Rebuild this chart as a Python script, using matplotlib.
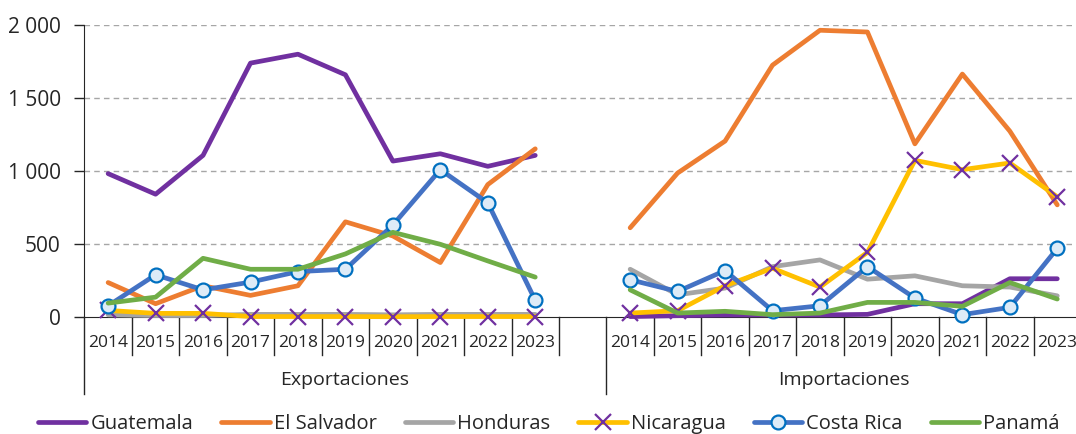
import matplotlib
matplotlib.use("Agg")
import matplotlib.pyplot as plt
from matplotlib.lines import Line2D
import matplotlib.transforms as mtransforms

plt.rcParams['font.family'] = ['Open Sans', 'DejaVu Sans']

years = ['2014', '2015', '2016', '2017', '2018', '2019', '2020', '2021', '2022', '2023']
groups = ['Exportaciones', 'Importaciones']
countries = ['Guatemala', 'El Salvador', 'Honduras', 'Nicaragua', 'Costa Rica', 'Panamá']

# exportaciones (millones)
exp_guatemala = [982, 841, 1107, 1739, 1800, 1659, 1068, 1118, 1032, 1107]
exp_salvador = [236, 91, 214, 148, 214, 652, 555, 373, 907, 1152]
exp_honduras = [15, 10, 10, 18, 18, 18, 15, 18, 18, 18]
exp_nicaragua = [45, 25, 25, 3, 3, 3, 2, 3, 3, 3]
exp_costarica = [77, 289, 186, 239, 311, 327, 630, 1009, 782, 114]
exp_panama = [95, 136, 402, 327, 327, 432, 580, 498, 384, 273]

# importaciones
imp_guatemala = [3, 9, 14, 14, 14, 18, 91, 91, 262, 262]
imp_salvador = [611, 986, 1205, 1725, 1964, 1952, 1186, 1664, 1273, 768]
imp_honduras = [327, 152, 198, 345, 391, 259, 282, 214, 205, 145]
imp_nicaragua = [27, 43, 214, 334, 205, 443, 1073, 1009, 1055, 823]
imp_costarica = [255, 175, 318, 43, 77, 345, 130, 16, 66, 470]
imp_panama = [186, 27, 39, 16, 27, 100, 100, 73, 236, 123]

exp_data = [exp_guatemala, exp_salvador, exp_honduras, exp_nicaragua, exp_costarica, exp_panama]
imp_data = [imp_guatemala, imp_salvador, imp_honduras, imp_nicaragua, imp_costarica, imp_panama]

colors = ['#7030A0', '#ED7D31', '#A5A5A5', '#FFC000', '#4472C4', '#70AD47']
styles = [
    dict(),
    dict(),
    dict(),
    dict(marker='x', markersize=11, markeredgewidth=1.6, markeredgecolor='#7030A0'),
    dict(marker='o', markersize=10, markeredgewidth=1.6, markeredgecolor='#0070C0',
         markerfacecolor='#DDEBF7'),
    dict(),
]
txt = '#262626'

fig = plt.figure(figsize=(10.76, 4.34), dpi=100)
ax = fig.add_axes([84.4 / 1076, 1 - 317 / 434, (1081 - 84.4) / 1076, 292 / 434])

x_exp = list(range(10))
x_imp = [i + 11 for i in range(10)]

for i, name in enumerate(countries):
    ax.plot(x_exp, exp_data[i], color=colors[i], lw=3.4, solid_capstyle='round',
            zorder=3 + i, clip_on=False, **styles[i])
    ax.plot(x_imp, imp_data[i], color=colors[i], lw=3.4, solid_capstyle='round',
            zorder=3 + i, clip_on=False, **styles[i])

ax.set_xlim(-0.5, 20.5)
ax.set_ylim(0, 2000)
ax.set_yticks([0, 500, 1000, 1500, 2000])
ax.set_yticklabels(['0', '500', '1 000', '1 500', '2 000'], fontsize=15, color=txt)
ax.tick_params(axis='y', length=7, width=1, color=txt, pad=10)
ax.set_xticks([])
for y in [500, 1000, 1500, 2000]:
    ax.axhline(y, color='#A6A6A6', lw=1, ls=(0, (4, 3)), zorder=1)

for s in ['top', 'right']:
    ax.spines[s].set_visible(False)
ax.spines['left'].set_color(txt)
ax.spines['bottom'].set_color(txt)
ax.spines['bottom'].set_zorder(2)

# separadores de categorias bajo el eje
trans = mtransforms.blended_transform_factory(ax.transData, ax.transAxes)
short = 38 / 292
long_ = 77 / 292
for k in range(21):
    xb = k - 0.5
    depth = long_ if k in (0, 11) else short
    ax.plot([xb, xb], [0, -depth], color=txt, lw=1, transform=trans, clip_on=False)

for j, yr in enumerate(years):
    ax.text(x_exp[j], -26 / 292, yr, transform=trans, ha='center', va='center',
            fontsize=12.5, color=txt)
    ax.text(x_imp[j], -26 / 292, yr, transform=trans, ha='center', va='center',
            fontsize=12.5, color=txt)
ax.text(4.99, -63 / 292, groups[0], transform=trans, ha='center', va='center',
        fontsize=14, color=txt)
ax.text(15.5, -63 / 292, groups[1], transform=trans, ha='center', va='center',
        fontsize=14, color=txt)

handles = []
for i, name in enumerate(countries):
    handles.append(Line2D([], [], color=colors[i], lw=3.4, solid_capstyle='round', **styles[i]))
fig.legend(handles, countries, loc='center', bbox_to_anchor=(0.51, 1 - 424 / 434), ncol=6,
           frameon=False, fontsize=14.5, handlelength=2.4, handletextpad=0.2,
           columnspacing=1.4, numpoints=1, labelcolor=txt)

fig.savefig('out.png', dpi=100)
